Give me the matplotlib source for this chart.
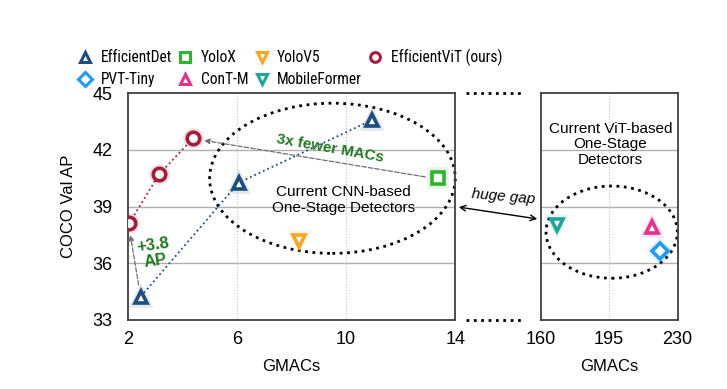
import matplotlib.pyplot as plt
from matplotlib.patches import Ellipse, FancyArrowPatch
from matplotlib.lines import Line2D
from matplotlib import font_manager

plt.rcParams['font.family'] = ['Liberation Sans', 'DejaVu Sans']

# data (GMACs, COCO val AP)
vit_macs = [2.06, 3.15, 4.40]
vit_ap = [38.12, 40.71, 42.62]
det_macs = [2.48, 6.07, 10.96]
det_ap = [34.24, 40.27, 43.59]
yolox_macs, yolox_ap = [13.38], [40.5]
yolov5_macs, yolov5_ap = [8.27], [37.2]
mobile_macs, mobile_ap = [168.2], [38.03]
cont_macs, cont_ap = [216.9], [37.94]
pvt_macs, pvt_ap = [221.0], [36.67]

left_xticks = [2, 6, 10, 14]
right_xticks = [160, 195, 230]
yticks = [33, 36, 39, 42, 45]

c_vit = '#a51c3c'
c_det = '#1c4e80'
c_yolox = '#2db52d'
c_yolov5 = '#f7a823'
c_mobile = '#1aa89a'
c_cont = '#e8308c'
c_pvt = '#1a9cff'
c_green = '#1e7a1e'

names = {f.name for f in font_manager.fontManager.ttflist}

fig = plt.figure(figsize=(7.27, 3.89), dpi=100)
ax1 = fig.add_axes([0.1756, 0.1774, 0.4506, 0.5828])
ax2 = fig.add_axes([0.7437, 0.1774, 0.1884, 0.5828])


def mark(ax, x, y, m, c, size=9):
    # soft glow under the marker
    ax.plot(x, y, m, ms=size + 2, mfc='none', mec=c, mew=4, alpha=0.12, ls='none', zorder=4)
    return ax.plot(x, y, m, ms=size, mfc='white', mec=c, mew=2.6, ls='none', zorder=5)[0]


ax1.plot(vit_macs, vit_ap, ':', color=c_vit, lw=1.3, zorder=3)
ax1.plot(det_macs, det_ap, ':', color=c_det, lw=1.3, zorder=3)
h_vit = mark(ax1, vit_macs, vit_ap, 'o', c_vit)
h_det = mark(ax1, det_macs, det_ap, '^', c_det)
h_yolox = mark(ax1, yolox_macs, yolox_ap, 's', c_yolox)
h_yolov5 = mark(ax1, yolov5_macs, yolov5_ap, 'v', c_yolov5)
h_mobile = mark(ax2, mobile_macs, mobile_ap, 'v', c_mobile)
h_cont = mark(ax2, cont_macs, cont_ap, '^', c_cont)
h_pvt = mark(ax2, pvt_macs, pvt_ap, 'D', c_pvt, size=8)

for ax, xt, xl in [(ax1, left_xticks, (2, 14)), (ax2, right_xticks, (160, 230))]:
    ax.set_xlim(*xl)
    ax.set_ylim(33, 45)
    ax.set_xticks(xt)
    ax.set_yticks(yticks)
    ax.tick_params(length=0, labelsize=13)
    ax.tick_params(axis='x', pad=8)
    ax.tick_params(axis='y', pad=11)
    for y in [36, 39, 42]:
        ax.axhline(y, color='#b0b0b0', lw=1, zorder=1)
    for s in ax.spines.values():
        s.set_color('#404040')
        s.set_linewidth(1.3)
    ax.set_xlabel('GMACs', fontsize=12, labelpad=8)

for x in [6, 10]:
    ax1.axvline(x, color='#c0c0c0', lw=0.8, ls=':', zorder=1)
ax2.axvline(195, color='#c0c0c0', lw=0.8, ls=':', zorder=1)
ax2.set_yticklabels([])
ax1.set_ylabel('COCO Val AP', fontsize=12, labelpad=12)

# ellipses
ax1.add_patch(Ellipse((9.5, 40.5), 9.0, 7.95, fill=False, ls=':', lw=2, ec='black', clip_on=False, zorder=2))
ax2.add_patch(Ellipse((196.3, 37.65), 67.1, 4.88, fill=False, ls=':', lw=2, ec='black', clip_on=False, zorder=2))

ax1.text(9.9, 39.35, 'Current CNN-based\nOne-Stage Detectors', ha='center', va='center', fontsize=11)
ax2.text(195.6, 42.3, 'Current ViT-based\nOne-Stage\nDetectors', ha='center', va='center', fontsize=11, linespacing=1.15)

# arrows
ax1.annotate('', xy=(4.7, 42.53), xytext=(13.0, 40.55),
             arrowprops=dict(arrowstyle='-|>', ls='--', color='#707070', lw=0.9, mutation_scale=8))
ax1.annotate('', xy=(2.08, 37.65), xytext=(2.42, 34.7),
             arrowprops=dict(arrowstyle='-|>', ls='--', color='#707070', lw=0.9, mutation_scale=8))
ax1.text(9.4, 42.1, '3x fewer MACs', color=c_green, fontsize=11, fontweight='bold',
         rotation=-10, ha='center', va='center')
ax1.text(2.97, 36.55, '+3.8\nAP', color=c_green, fontsize=12, fontweight='bold',
         rotation=8, ha='center', va='center', linespacing=1.05)

# broken-axis gap
fig.add_artist(Line2D([466 / 727, 524 / 727], [1 - 93.3 / 389] * 2, ls=':', lw=2, color='black'))
fig.add_artist(Line2D([466 / 727, 524 / 727], [1 - 319.5 / 389] * 2, ls=':', lw=2, color='black'))
fig.add_artist(FancyArrowPatch(
    (456 / 727, 1 - 206.7 / 389), (540 / 727, 1 - 219.3 / 389), transform=fig.transFigure,
    arrowstyle='<->', mutation_scale=10, lw=1, color='black'))
fig.text(503 / 727, 1 - 197 / 389, 'huge gap', fontsize=11, style='italic', rotation=-5,
         ha='center', va='center')

handles = [h_det, h_pvt, h_yolox, h_cont, h_yolov5, h_mobile, h_vit]
labels = ['EfficientDet', 'PVT-Tiny', 'YoloX', 'ConT-M', 'YoloV5', 'MobileFormer', 'EfficientViT (ours)']
leg_handles = [Line2D([], [], marker=h.get_marker(), ms=7, mfc='white', mec=h.get_mec(), mew=2.2, ls='none')
               for h in handles]
if 'Roboto Condensed' in names:
    leg_font = {'family': 'Roboto Condensed', 'size': 11.2}
else:
    leg_font = {'family': 'Liberation Sans', 'size': 10}
fig.legend(leg_handles, labels, ncol=4, frameon=False, prop=leg_font, loc='center left',
           bbox_to_anchor=(0.096, 1 - 68 / 389), handlelength=1, handletextpad=0.5,
           columnspacing=0.35, labelspacing=0.45, borderpad=0)

fig.savefig('out.png', dpi=100)
